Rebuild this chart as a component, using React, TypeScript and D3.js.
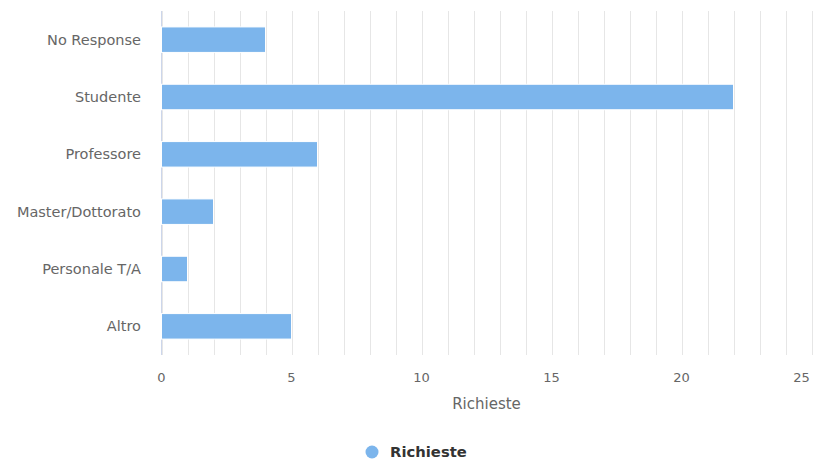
import React from "react";
import * as d3 from "d3";

const categories = ["No Response", "Studente", "Professore", "Master/Dottorato", "Personale T/A", "Altro"];
const values = [4, 22, 6, 2, 1, 5];
const majorTicks = [0, 5, 10, 15, 20, 25];
const seriesName = "Richieste";
const axisTitle = "Richieste";

const W = 813;
const H = 462;
const plot = { left: 161.5, right: 811.5, top: 11, bottom: 355 };
const font = "'DejaVu Sans', 'Lucida Grande', Arial, sans-serif";

export default function App() {
  const x = d3.scaleLinear().domain([0, 25]).range([plot.left, plot.right]);
  const y = d3.scaleBand<string>().domain(categories).range([plot.top, plot.bottom]);
  const minor = d3.range(0, 26);
  const barH = 25.5;

  return (
    <div style={{ position: "absolute", left: 0, top: 0 }}>
      <svg width={W} height={H} style={{ display: "block", background: "#fff" }} fontFamily={font}>
        {minor.map((t) => (
          <line key={"g" + t} x1={Math.round(x(t)) + 0.5} x2={Math.round(x(t)) + 0.5} y1={plot.top} y2={plot.bottom} stroke="#e6e6e6" strokeWidth={1} />
        ))}
        <line x1={plot.left} x2={plot.left} y1={plot.top} y2={plot.bottom} stroke="#ccd6eb" strokeWidth={1} />
        {categories.map((c, i) => {
          const cy = (y(c) as number) + y.bandwidth() / 2;
          return (
            <g key={c}>
              <rect x={x(0)} y={cy - barH / 2} width={x(values[i]) - x(0)} height={barH} fill="#7cb5ec" stroke="#ffffff" strokeWidth={1} />
              <text x={141} y={cy} dy="0.35em" textAnchor="end" fontSize={14.5} fill="#666666">{c}</text>
            </g>
          );
        })}
        {majorTicks.map((t) => (
          <text key={"t" + t} x={t === 25 ? x(t) - 10 : x(t)} y={382} textAnchor="middle" fontSize={13} fill="#666666">{t}</text>
        ))}
        <text x={(plot.left + plot.right) / 2} y={409} textAnchor="middle" fontSize={15} fill="#666666">{axisTitle}</text>
        <circle cx={372} cy={452} r={6.5} fill="#7cb5ec" />
        <text x={390} y={452} dy="0.35em" fontSize={14.8} fontWeight="bold" fill="#333333">{seriesName}</text>
      </svg>
    </div>
  );
}
